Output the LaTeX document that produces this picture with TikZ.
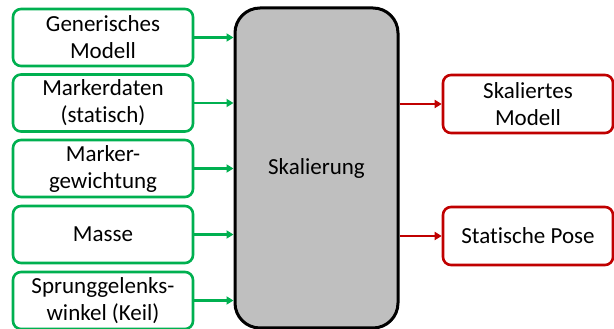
\documentclass[tikz,border=0pt]{standalone}
\usepackage{fontspec}
\setmainfont{Carlito}[Ligatures=CommonOff]
\usetikzlibrary{arrows.meta}
\definecolor{ingreen}{HTML}{00B050}
\definecolor{outred}{HTML}{C00000}
\definecolor{procgray}{HTML}{BFBFBF}
\tikzset{
  inbox/.style={draw=ingreen, line width=2.6pt, rounded corners=8pt, fill=white,
    minimum width=180pt, minimum height=57pt, align=center, inner sep=0pt,
    font=\fontsize{23}{27}\selectfont},
  outbox/.style={draw=outred, line width=2.6pt, rounded corners=8pt, fill=white,
    minimum width=170pt, minimum height=58pt, align=center, inner sep=0pt,
    font=\fontsize{23}{27}\selectfont},
  procbox/.style={draw=black, line width=3pt, rounded corners=25pt, fill=procgray,
    minimum width=163pt, minimum height=320pt, align=center, inner sep=0pt,
    font=\fontsize{23}{27}\selectfont},
  inarrow/.style={draw=ingreen, line width=2.6pt, -{Triangle[length=7pt,width=8pt]}},
  outarrow/.style={draw=outred, line width=2.6pt, -{Triangle[length=7pt,width=8pt]}}
}
\begin{document}
\begin{tikzpicture}[x=1pt,y=1pt]
\useasboundingbox (0,0) rectangle (614,329);
\node[procbox] (proc) at (316.5,161) {Skalierung};
\node[inbox] (g1) at (103,291.5) {Generisches\\Modell};
\node[inbox] (g2) at (103,226) {Markerdaten\\(statisch)};
\node[inbox] (g3) at (103,160.5) {Marker-\\gewichtung};
\node[inbox] (g4) at (103,94.5) {Masse};
\node[inbox] (g5) at (103,28.5) {Sprunggelenks-\\winkel (Keil)};
\node[outbox] (r1) at (528,225) {Skaliertes\\Modell};
\node[outbox] (r2) at (528,93) {Statische Pose};
\foreach \n in {g1,g2,g3,g4,g5}
  \draw[inarrow] (\n.east) -- (\n.east -| proc.west);
\draw[outarrow] (r1.west -| proc.east) -- (r1.west);
\draw[outarrow] (r2.west -| proc.east) -- (r2.west);
\end{tikzpicture}
\end{document}
